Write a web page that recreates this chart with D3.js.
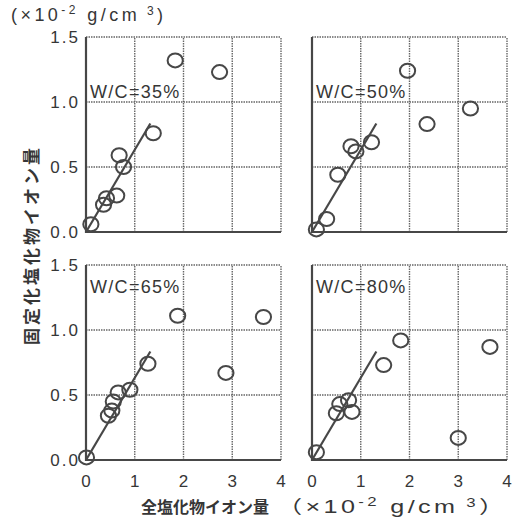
<!DOCTYPE html>
<html>
<head>
<meta charset="utf-8">
<script src="https://cdn.jsdelivr.net/npm/d3@7"></script>
<style>
body { margin: 0; background: #fff; }
text { fill: #363636; }
</style>
</head>
<body>
<script>
var Ink = "#474747";
var Grid = "#666666";

var panels = ["W/C=35%", "W/C=50%", "W/C=65%", "W/C=80%"];
var xTicks = [0, 1, 2, 3, 4];
var yTicks = [0, 0.5, 1.0, 1.5];
var yTickLabels = ["0.0", "0.5", "1.0", "1.5"];

// points, [x, y]
var wc35 = [[1.83, 1.32], [2.74, 1.23], [1.38, 0.76], [0.68, 0.59], [0.77, 0.50],
	[0.63, 0.28], [0.42, 0.26], [0.36, 0.21], [0.10, 0.06]];
var wc50 = [[1.96, 1.24], [3.25, 0.95], [2.36, 0.83], [1.22, 0.69], [0.80, 0.66],
	[0.90, 0.62], [0.53, 0.44], [0.30, 0.10], [0.09, 0.02]];
var wc65 = [[1.88, 1.11], [3.64, 1.10], [1.27, 0.74], [2.87, 0.67], [0.90, 0.54],
	[0.66, 0.52], [0.56, 0.45], [0.53, 0.38], [0.46, 0.34], [0.01, 0.02]];
var wc80 = [[1.82, 0.92], [3.65, 0.87], [1.47, 0.73], [0.75, 0.46], [0.57, 0.43],
	[0.82, 0.37], [0.50, 0.36], [3.00, 0.17], [0.09, 0.06]];
var series = [wc35, wc50, wc65, wc80];

// fitted line, same in every panel
var fitLine = [[0, 0], [1.32, 0.835]];

var svg = d3.select("body").append("svg")
	.attr("width", 520)
	.attr("height", 526);

var latin = "'Liberation Sans', Arial, Helvetica, sans-serif";
var cjk = "'Noto Sans CJK JP', sans-serif";

var pw = 195, ph = 195;
var origins = [[86, 37], [312, 37], [86, 265], [312, 265]];
// label drop below the panel top, top row vs bottom row
var labelDrop = [61, 61, 28, 28];

panels.forEach(function(name, p) {
	var ox = origins[p][0], oy = origins[p][1];
	var x = d3.scaleLinear().domain([0, 4]).range([ox, ox + pw]);
	var y = d3.scaleLinear().domain([0, 1.5]).range([oy + ph, oy]);
	var g = svg.append("g");

	// dotted grid, including top and right borders
	g.selectAll(".vg").data(xTicks.slice(1)).enter()
		.append("line")
		.attr("x1", d => x(d)).attr("x2", d => x(d))
		.attr("y1", y(0)).attr("y2", y(1.5))
		.attr("stroke", Grid).attr("stroke-width", 1.4)
		.attr("stroke-dasharray", "1.5,1");
	g.selectAll(".hg").data(yTicks.slice(1)).enter()
		.append("line")
		.attr("x1", x(0)).attr("x2", x(4))
		.attr("y1", d => y(d)).attr("y2", d => y(d))
		.attr("stroke", Grid).attr("stroke-width", 1.4)
		.attr("stroke-dasharray", "1.5,1");

	// solid left and bottom axes
	g.append("path")
		.attr("d", "M" + x(0) + "," + y(1.5) + "V" + y(0) + "H" + x(4))
		.attr("fill", "none")
		.attr("stroke", Ink)
		.attr("stroke-width", 2.2);

	// fit line
	g.append("line")
		.attr("x1", x(fitLine[0][0])).attr("y1", y(fitLine[0][1]))
		.attr("x2", x(fitLine[1][0])).attr("y2", y(fitLine[1][1]))
		.attr("stroke", Ink).attr("stroke-width", 2.2);

	// points
	g.selectAll(".pt").data(series[p]).enter()
		.append("ellipse")
		.attr("cx", d => x(d[0]))
		.attr("cy", d => y(d[1]))
		.attr("rx", 7.6)
		.attr("ry", 7)
		.attr("fill", "none")
		.attr("stroke", Ink)
		.attr("stroke-width", 2);

	g.append("text")
		.attr("x", x(0) + 4)
		.attr("y", y(1.5) + labelDrop[p])
		.attr("font-family", latin)
		.attr("font-size", 18)
		.attr("letter-spacing", 1.3)
		.text(name);

	if (p % 2 == 0) {
		g.selectAll(".yl").data(yTicks).enter()
			.append("text")
			.attr("x", x(0) - 6)
			.attr("y", d => y(d) + 6)
			.attr("text-anchor", "end")
			.attr("font-family", latin)
			.attr("font-size", 17)
			.attr("letter-spacing", 2)
			.text((d, i) => yTickLabels[i]);
	}
	if (p >= 2) {
		g.selectAll(".xl").data(xTicks).enter()
			.append("text")
			.attr("x", d => x(d))
			.attr("y", y(0) + 27)
			.attr("text-anchor", "middle")
			.attr("font-family", latin)
			.attr("font-size", 17)
			.text(d => d);
	}
});

function unitText(sel, open, close, openFont) {
	sel.append("tspan").attr("font-family", openFont).text(open);
	sel.append("tspan").text("×10");
	sel.append("tspan").attr("font-size", 12).attr("dy", -7).text("-2");
	sel.append("tspan").attr("dy", 7).text(" g/cm");
	sel.append("tspan").attr("font-size", 12).attr("dy", -6).text(" 3");
	sel.append("tspan").attr("font-family", openFont).attr("dy", 6).text(close);
}

// unit label at top left
svg.append("text")
	.attr("x", 11)
	.attr("y", 21)
	.attr("font-family", latin)
	.attr("font-size", 18)
	.attr("textLength", 152)
	.attr("lengthAdjust", "spacing")
	.call(unitText, "(", ")", latin);

// x axis title
svg.append("text")
	.attr("x", 141)
	.attr("y", 513)
	.attr("font-family", cjk)
	.attr("font-weight", "bold")
	.attr("font-size", 16)
	.text("全塩化物イオン量");
// the unit part is set in a wide face in the original, so stretch it
svg.append("text")
	.attr("transform", "translate(277,513) scale(1.4,1)")
	.attr("font-family", latin)
	.attr("font-size", 18)
	.attr("letter-spacing", 2.4)
	.call(unitText, "（", "）", cjk);

// y axis title
svg.append("text")
	.attr("transform", "translate(38,245) rotate(-90)")
	.attr("text-anchor", "middle")
	.attr("font-family", cjk)
	.attr("font-weight", "bold")
	.attr("font-size", 17)
	.attr("letter-spacing", 3)
	.text("固定化塩化物イオン量");
</script>
</body>
</html>
